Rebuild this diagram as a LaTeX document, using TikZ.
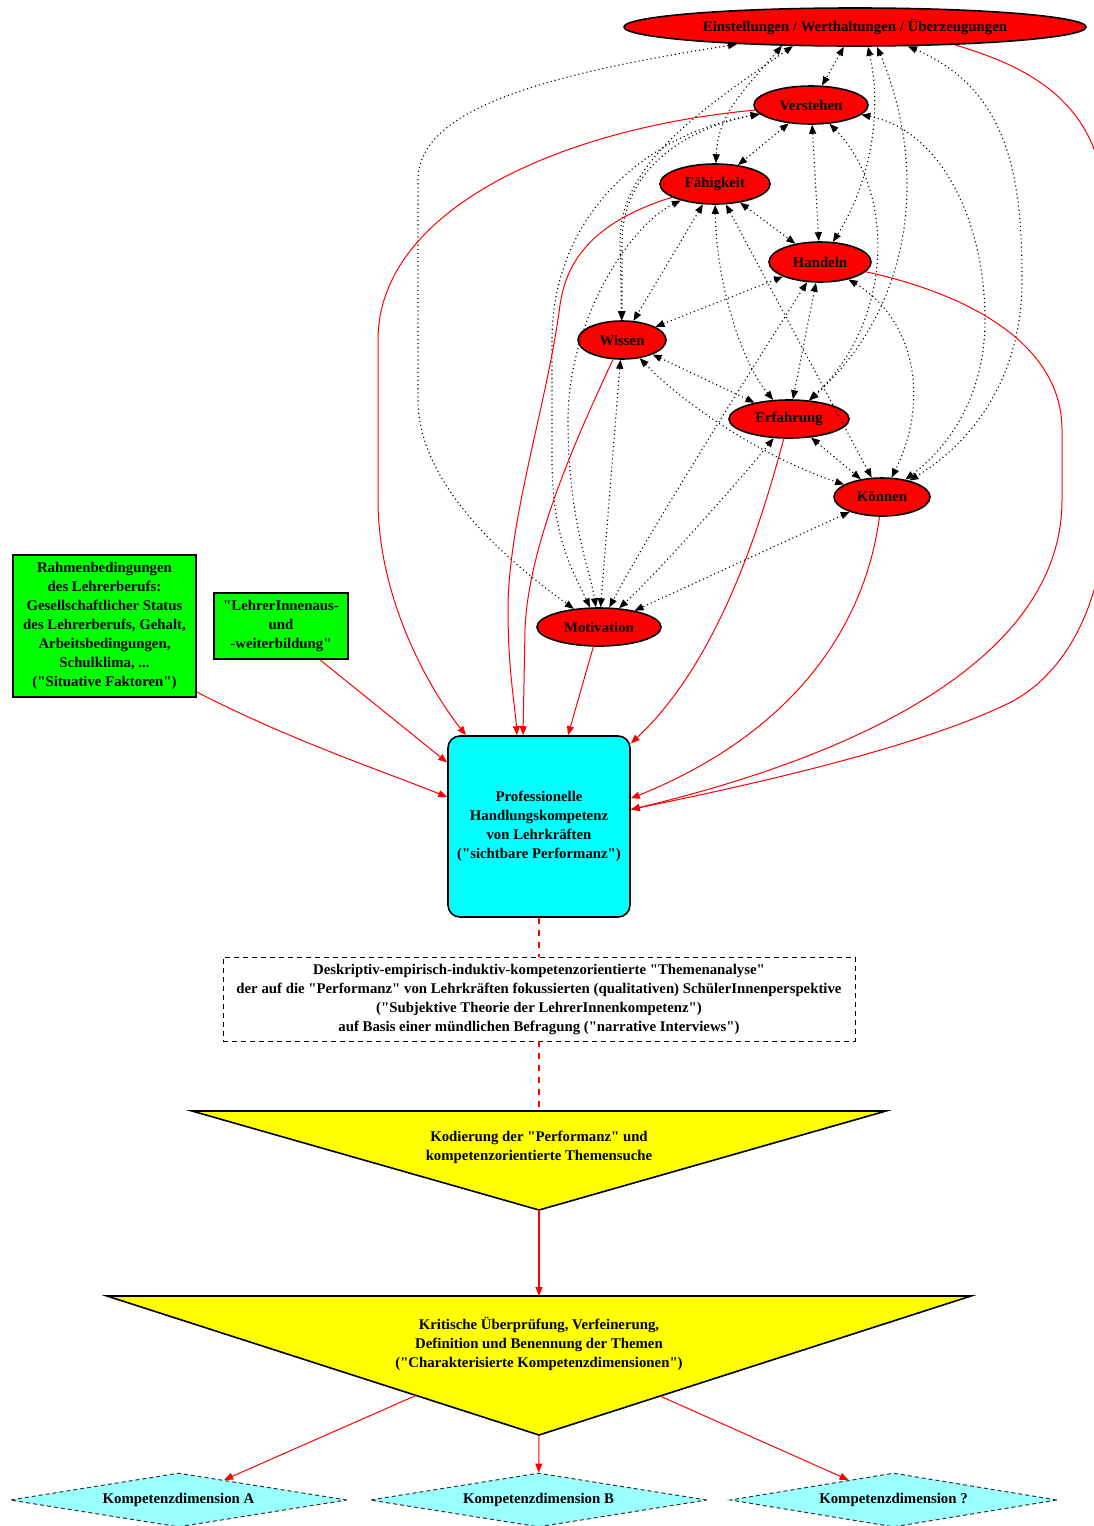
\documentclass[tikz,border=0pt]{standalone}
\usepackage{fontspec}
\setmainfont{Liberation Serif}[Ligatures=TeXOff]
\usetikzlibrary{arrows.meta,shapes.geometric}
\definecolor{lightcyan}{RGB}{153,255,255}
\definecolor{pcyan}{RGB}{0,255,255}
\definecolor{pyellow}{RGB}{255,255,0}
\definecolor{pgreen}{RGB}{0,255,0}
\definecolor{pred}{RGB}{255,0,0}
\begin{document}
\begin{tikzpicture}[x=1pt,y=-1pt,
  txt/.style={font=\fontsize{14.8}{19}\selectfont\bfseries, align=center, text=black},
  oval/.style={txt, ellipse, draw=black, line width=1.6pt, fill=pred, inner sep=0pt},
  gbox/.style={txt, rectangle, draw=black, line width=1.6pt, fill=pgreen, inner sep=0pt},
  pbox/.style={txt, rectangle, rounded corners=12pt, draw=black, line width=1.6pt, fill=pcyan, inner sep=0pt},
  anabox/.style={txt, rectangle, draw=black, line width=0.9pt, dash pattern=on 5pt off 4pt, inner sep=0pt},
  tribox/.style={draw=black, line width=1.6pt, fill=pyellow, line join=miter},
  dimbox/.style={txt, diamond, aspect=6.2, draw=black!80, line width=1pt, dash pattern=on 4pt off 3pt, fill=lightcyan, inner sep=0pt},
  redge/.style={draw=pred, line width=1pt, -{Triangle[length=9pt,width=7pt]}},
  rlink/.style={draw=pred, line width=1.1pt, dash pattern=on 6pt off 6pt},
  dedge/.style={draw=black, line width=1.1pt, dash pattern=on 1.1pt off 3pt,
    {Triangle[length=9pt,width=7pt]}-{Triangle[length=9pt,width=7pt]}},
]
\path[use as bounding box, clip] (0,0) rectangle (1094,1526);

% competence facets
\node[oval, minimum width=462pt, minimum height=38pt] (E) at (855,27) {Einstellungen / Werthaltungen / Überzeugungen};
\node[oval, minimum width=114pt, minimum height=38pt] (V) at (811,105) {Verstehen};
\node[oval, minimum width=110pt, minimum height=40pt] (F) at (715,184) {Fähigkeit};
\node[oval, minimum width=102pt, minimum height=40pt] (H) at (820,262) {Handeln};
\node[oval, minimum width=88pt, minimum height=38pt] (W) at (622,340) {Wissen};
\node[oval, minimum width=120pt, minimum height=38pt] (Er) at (789,419) {Erfahrung};
\node[oval, minimum width=96pt, minimum height=38pt] (K) at (882,497) {Können};
\node[oval, minimum width=124pt, minimum height=38pt] (M) at (599,627) {Motivation};

% framework conditions
\node[gbox, minimum width=183pt, minimum height=142pt] (g1) at (104.5,626)
  {Rahmenbedingungen\\des Lehrerberufs:\\Gesellschaftlicher Status\\des Lehrerberufs, Gehalt,\\Arbeitsbedingungen,\\Schulklima, ...\\("Situative Faktoren")};
\node[gbox, minimum width=134pt, minimum height=66pt] (g2) at (281,626)
  {"LehrerInnenaus-\\und\\-weiterbildung"};

% central competence
\node[pbox, minimum width=182pt, minimum height=181pt] (P) at (539,826.5)
  {Professionelle\\Handlungskompetenz\\von Lehrkräften\\("sichtbare Performanz")};

% analysis
\node[anabox, minimum width=632pt, minimum height=84pt] (ana) at (539,999)
  {Deskriptiv-empirisch-induktiv-kompetenzorientierte "Themenanalyse"\\der auf die "Performanz" von Lehrkräften fokussierten (qualitativen) SchülerInnenperspektive\\("Subjektive Theorie der LehrerInnenkompetenz")\\auf Basis einer mündlichen Befragung ("narrative Interviews")};

% funnels
\draw[tribox] (192,1111) -- (886,1111) -- (539,1210) -- cycle;
\coordinate (t1top) at (539,1111);
\coordinate (t1apex) at (539,1210);
\node[txt] (t1) at (539,1147) {Kodierung der "Performanz" und\\kompetenzorientierte Themensuche};

\draw[tribox] (107,1296) -- (971,1296) -- (539,1435) -- cycle;
\coordinate (t2top) at (539,1296);
\coordinate (t2apex) at (539,1435);
\coordinate (t2l) at (416,1395.4);
\coordinate (t2r) at (660,1396);
\node[txt] (t2) at (539,1344) {Kritische Überprüfung, Verfeinerung,\\Definition und Benennung der Themen\\("Charakterisierte Kompetenzdimensionen")};

% resulting dimensions
\node[dimbox, minimum width=337pt, minimum height=54pt] (dA) at (178.5,1500) {Kompetenzdimension A};
\node[dimbox, minimum width=337pt, minimum height=54pt] (dB) at (538.5,1500) {Kompetenzdimension B};
\node[dimbox, minimum width=327pt, minimum height=54pt] (dQ) at (893.5,1500) {Kompetenzdimension ?};

% mutual relations between the facets
\draw[dedge] (E) -- (V);
\draw[dedge] ([xshift=-73pt,yshift=1pt]E.south) .. controls (742,92) and (718,115) .. (F);
\draw[dedge] ([xshift=-62pt,yshift=0.7pt]E.south) .. controls (700,110) and (620,165) .. (620,240) -- (W);
\draw[dedge] ([xshift=13pt]E.south) .. controls (884,120) and (866,190) .. (H);
\draw[dedge] ([xshift=22pt]E.south) .. controls (925,160) and (920,300) .. (Er);
\draw[dedge] ([xshift=53pt,yshift=0.5pt]E.south) .. controls (1010,90) and (1022,180) .. (1022,280)
  .. controls (1022,390) and (960,450) .. (K);
\draw[dedge] ([xshift=-118pt,yshift=2.6pt]E.south) .. controls (540,75) and (418,110) .. (418,180)
  -- (418,400) .. controls (418,490) and (520,570) .. (M);
\draw[dedge] (V) -- (F);
\draw[dedge] (V) -- (H);
\draw[dedge] (V) .. controls (700,125) and (624,160) .. (622,240) -- (W);
\draw[dedge] (V) .. controls (895,190) and (895,320) .. (Er);
\draw[dedge] (V) .. controls (940,130) and (985,220) .. (985,320) .. controls (985,400) and (945,450) .. (K);
\draw[dedge] (V) .. controls (640,135) and (552,220) .. (552,340) -- (552,460)
  .. controls (552,540) and (575,575) .. (M);
\draw[dedge] (F) -- (H);
\draw[dedge] (F) -- (W);
\draw[dedge] (F) .. controls (716,280) and (740,360) .. (Er);
\draw[dedge] (F) -- (K);
\draw[dedge] (F) .. controls (630,225) and (568,320) .. (568,420) .. controls (568,520) and (590,570) .. (M);
\draw[dedge] (H) -- (W);
\draw[dedge] (H) -- (Er);
\draw[dedge] (H) .. controls (915,320) and (930,400) .. (K);
\draw[dedge] (H) .. controls (770,340) and (650,530) .. (M);
\draw[dedge] (W) -- (Er);
\draw[dedge] (W) .. controls (690,410) and (770,460) .. (K);
\draw[dedge] (W) -- (M);
\draw[dedge] (Er) -- (K);
\draw[dedge] (Er) .. controls (740,480) and (660,570) .. (M);
\draw[dedge] (K) -- (M);

% influences on the professional competence
\draw[redge] ([yshift=-66pt]g1.east) .. controls (290,740) and (380,770) .. ([yshift=29.5pt]P.west);
\draw[redge] ([xshift=39pt]g2.south) -- ([yshift=64pt]P.west);
\draw[redge] (V) .. controls (560,128) and (378,210) .. (378,340) -- (378,500)
  .. controls (378,600) and (430,690) .. ([xshift=-73pt]P.north);
\draw[redge] (F) .. controls (592,222) and (566,262) .. (560,305) .. controls (548,400) and (508,520) .. (508,610)
  .. controls (508,670) and (515,705) .. ([xshift=-22pt]P.north);
\draw[redge] (W) .. controls (585,420) and (528,540) .. (525,630) -- ([xshift=-16pt]P.north);
\draw[redge] (M) -- ([xshift=29pt]P.north);
\draw[redge] (Er) .. controls (762,520) and (720,660) .. ([yshift=83pt]P.east);
\draw[redge] (K) .. controls (866,620) and (800,730) .. ([yshift=28pt]P.east);
\draw[redge] (H) .. controls (960,292) and (1062,340) .. (1062,430) -- (1062,500)
  .. controls (1062,650) and (880,750) .. ([yshift=17pt]P.east);
\draw[redge] ([xshift=100pt,yshift=1.9pt]E.south) .. controls (1040,70) and (1106,110) .. (1106,220)
  -- (1106,500) .. controls (1106,610) and (1060,680) .. (1005,705)
  .. controls (900,755) and (700,795) .. ([yshift=17pt]P.east);

% analysis chain
\draw[rlink] (P) -- (ana);
\draw[rlink] (ana) -- (t1top);
\draw[redge, line width=1.2pt] (t1apex) -- (t2top);
\draw[redge] (t2l) -- (dA);
\draw[redge] (t2apex) -- (dB);
\draw[redge] (t2r) -- (dQ);
\end{tikzpicture}
\end{document}
